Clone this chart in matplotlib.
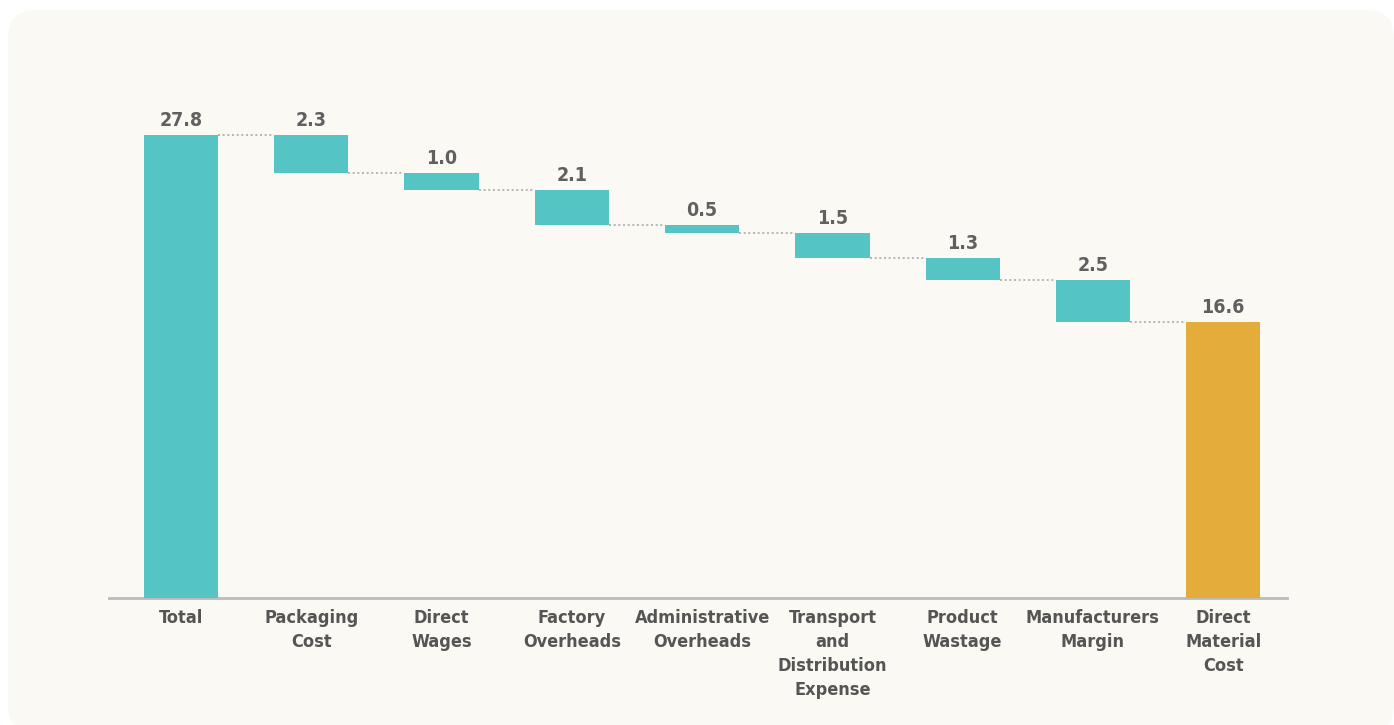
import matplotlib.pyplot as plt
from matplotlib.patches import FancyBboxPatch

categories = ['Total', 'Packaging\nCost', 'Direct\nWages', 'Factory\nOverheads',
              'Administrative\nOverheads', 'Transport\nand\nDistribution\nExpense',
              'Product\nWastage', 'Manufacturers\nMargin', 'Direct\nMaterial\nCost']
total = 27.8
deductions = [2.3, 1.0, 2.1, 0.5, 1.5, 1.3, 2.5]
final = 16.6

teal = '#55c4c4'
gold = '#e4ac3a'
text_grey = '#555555'
font = dict(family='DejaVu Sans', stretch='condensed', weight='bold')

fig = plt.figure(figsize=(13.94, 7.25), dpi=100)
fig.patch.set_facecolor('white')
panel = FancyBboxPatch((8 / 1394, -8 / 725), 1386 / 1394, 723 / 725,
                       boxstyle='round,pad=0,rounding_size=0.02',
                       transform=fig.transFigure, facecolor='#faf9f4',
                       edgecolor='none', zorder=-10, mutation_aspect=1394 / 725)
fig.patches.append(panel)

ax = fig.add_axes([108.8 / 1394, 127 / 725, 1178.2 / 1394, 499.5 / 725])
ax.set_facecolor('none')

width = 0.57
# running level after each step
levels = [total]
for d in deductions:
    levels.append(levels[-1] - d)

ax.bar(0, total, width=width, color=teal, zorder=3)
for i, d in enumerate(deductions, start=1):
    ax.bar(i, d, bottom=levels[i], width=width, color=teal, zorder=3)
n = len(categories) - 1
ax.bar(n, final, width=width, color=gold, zorder=3)

# dotted connectors between neighbouring bars
for i in range(n):
    ax.plot([i + width / 2, i + 1 - width / 2], [levels[i], levels[i]],
            linestyle=(0, (1.2, 1.6)), color='#aaaaaa', linewidth=1.2, zorder=2)

tops = [total] + levels[:-1] + [final]
values = [total] + deductions + [final]
for i, (t, v) in enumerate(zip(tops, values)):
    ax.text(i, t + 0.3, f'{v:.1f}', ha='center', va='bottom', fontsize=14,
            color='#606060', **font)

ax.set_xlim(-0.555, 8.49)
ax.set_ylim(0, 30)
ax.set_xticks(range(len(categories)))
ax.set_xticklabels(categories, fontsize=13, color=text_grey, linespacing=1.42, **font)
ax.tick_params(axis='x', length=0, pad=8)
ax.set_yticks([])
for side in ['top', 'right', 'left']:
    ax.spines[side].set_visible(False)
ax.spines['bottom'].set_color('#bbbbbb')
ax.spines['bottom'].set_linewidth(2)

fig.savefig('out.png', dpi=100, facecolor=fig.get_facecolor())
